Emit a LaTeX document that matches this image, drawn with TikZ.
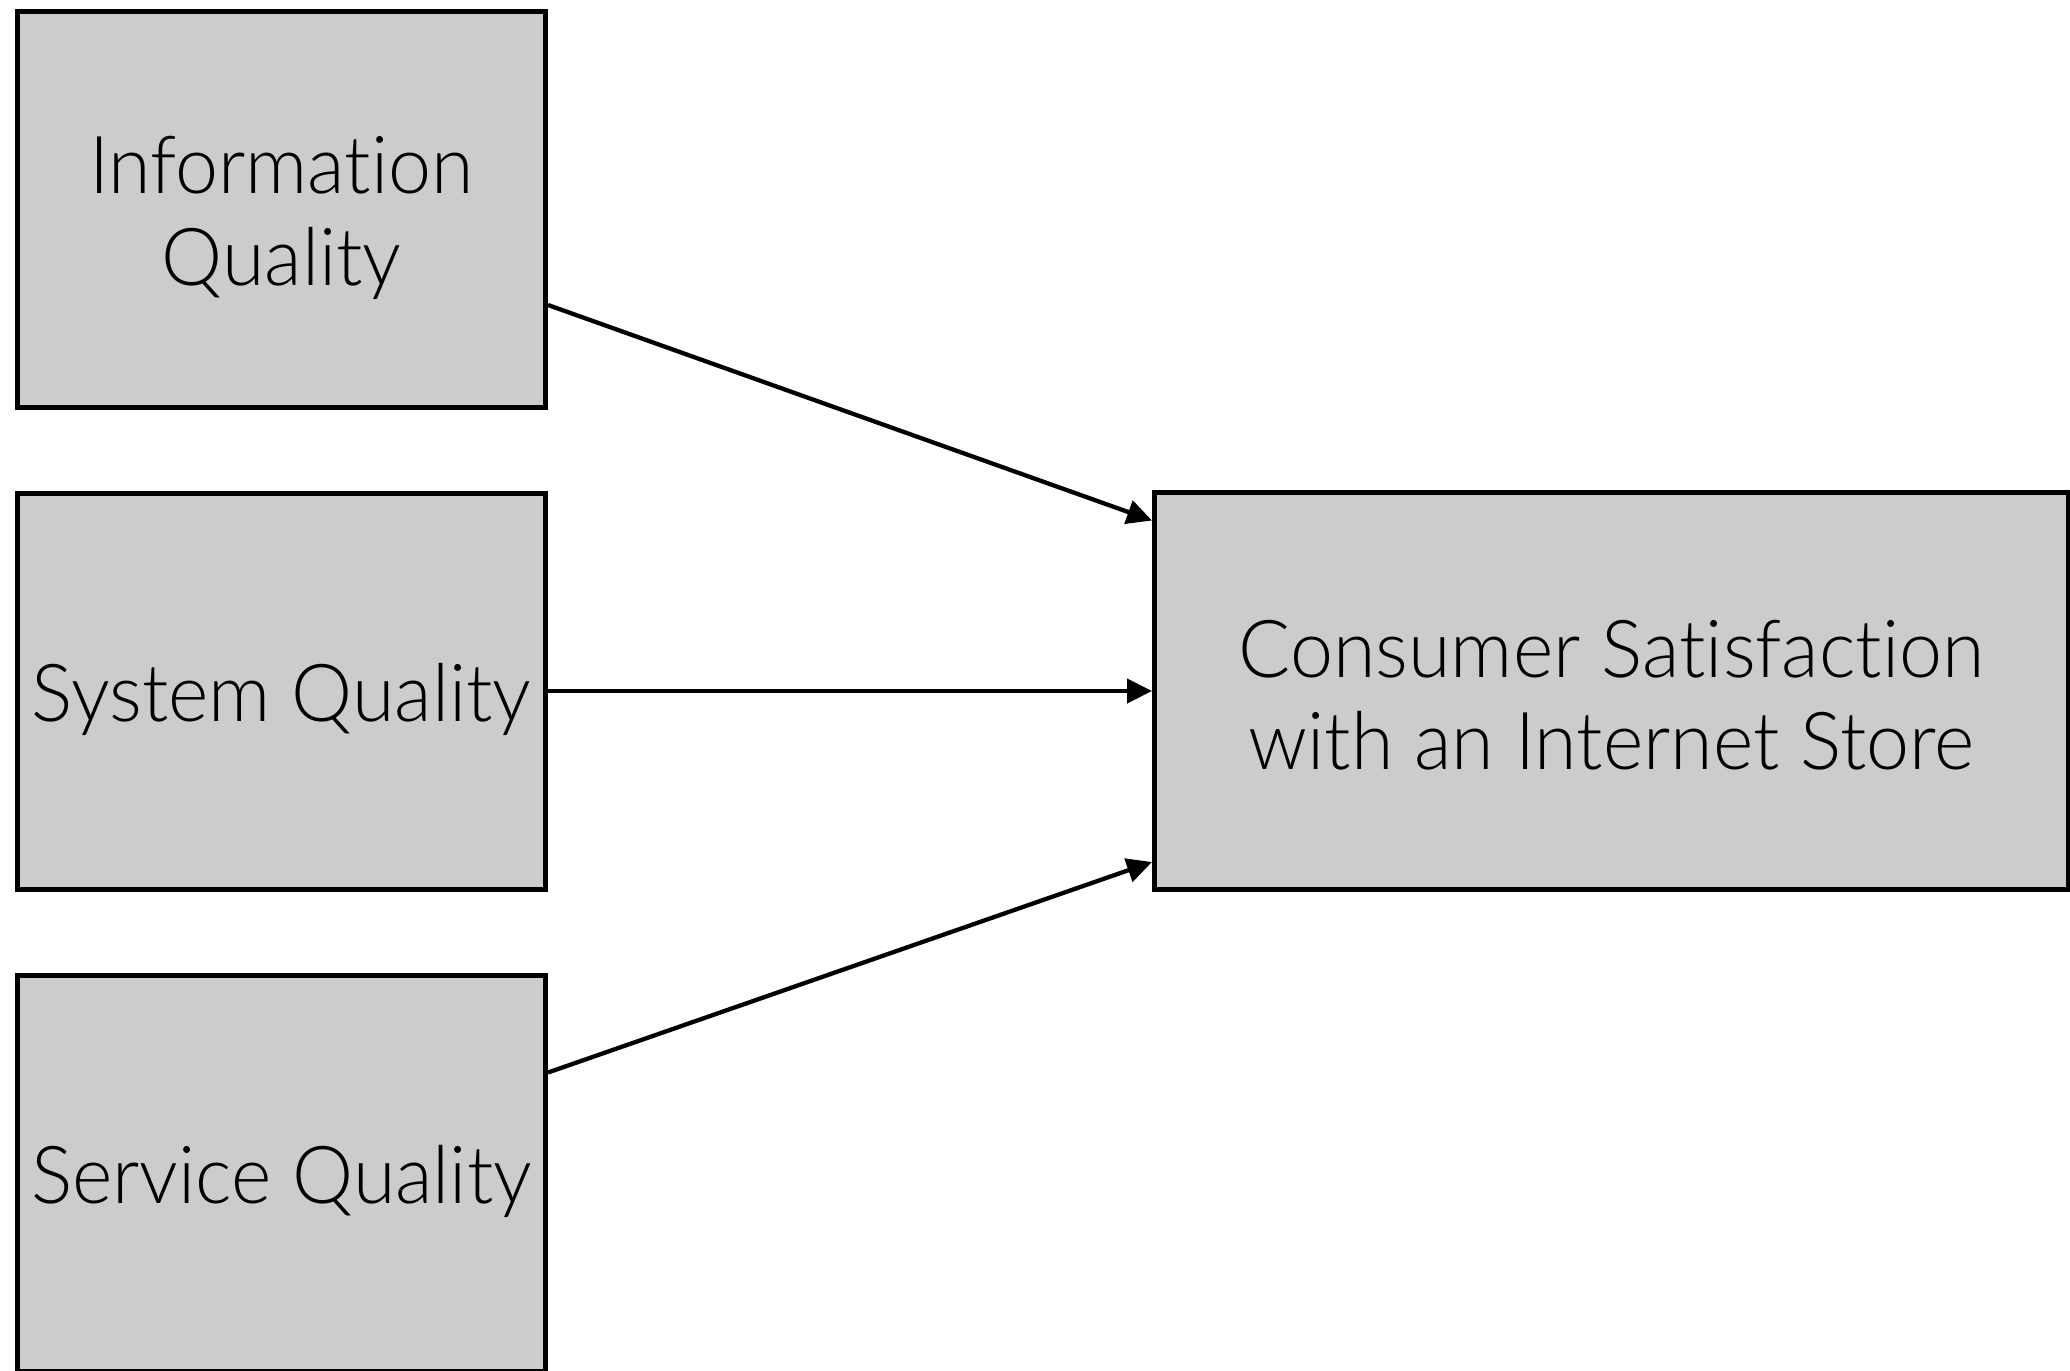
\documentclass[tikz,border=0pt]{standalone}
\usepackage{fontspec}
\setmainfont{Lato}[UprightFont={* Light}, Ligatures={NoCommon}, FakeStretch=0.965]
\usetikzlibrary{arrows.meta}
\begin{document}
\begin{tikzpicture}[x=1pt,y=1pt,
  box/.style={draw=black, fill={rgb,255:red,204;green,204;blue,204}, line width=5pt,
    rectangle, inner sep=0pt},
  txt/.style={inner sep=0pt, align=center, font=\fontsize{80}{92}\selectfont},
  conn/.style={line width=4.3pt, -{Triangle[length=25pt,width=24pt]}}]
\useasboundingbox (0,0) rectangle (2070,-1371);
\node[box, minimum width=528pt, minimum height=396pt] (info) at (281.5,-209) {};
\node[box, minimum width=528pt, minimum height=396pt] (sys) at (281.5,-691) {};
\node[box, minimum width=528pt, minimum height=396pt] (serv) at (281.5,-1173) {};
\node[box, minimum width=914pt, minimum height=397pt] (cons) at (1611.5,-691) {};
\node[txt] (infot) at ([yshift=-9pt]info.center) {Information\\Quality};
\node[txt] (syst) at ([yshift=-8pt]sys.center) {System Quality};
\node[txt] (servt) at ([yshift=-8pt]serv.center) {Service Quality};
\node[txt] (const) at ([yshift=-4pt]cons.center) {Consumer Satisfaction\\with an Internet Store};
\draw[conn] ([yshift=-96pt]info.east) -- ([yshift=-30.5pt]cons.north west);
\draw[conn] (sys.east) -- (cons.west);
\draw[conn] ([yshift=-100pt]serv.north east) -- ([yshift=30pt]cons.south west);
\end{tikzpicture}
\end{document}
